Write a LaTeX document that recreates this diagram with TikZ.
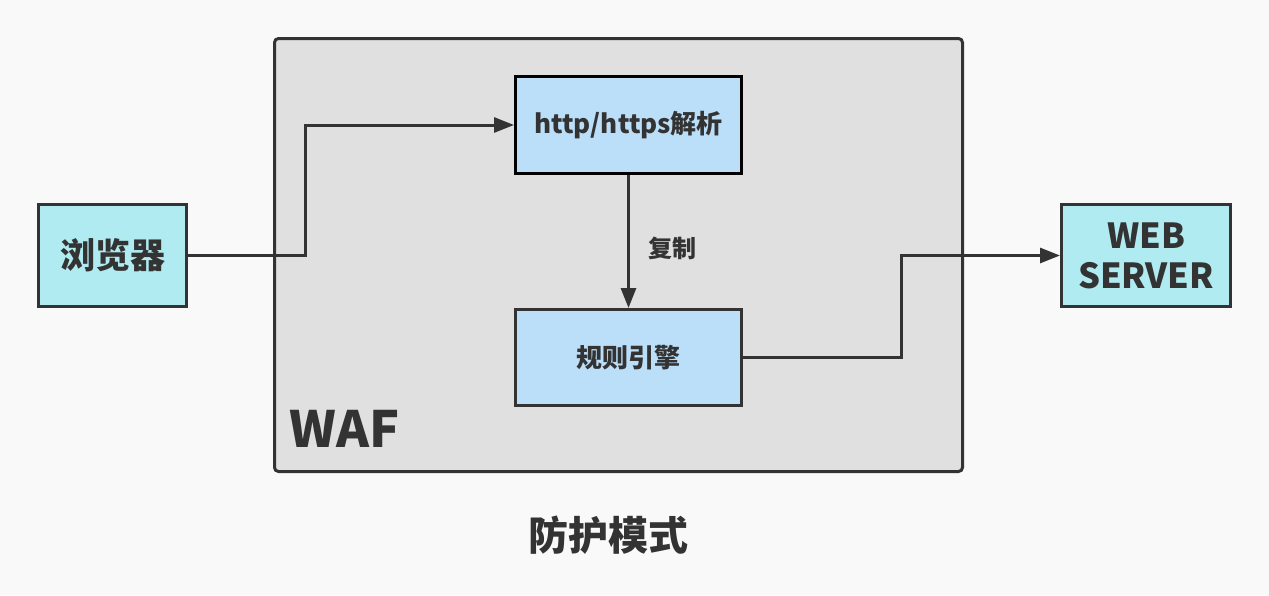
\documentclass[tikz,border=0pt]{standalone}
\usepackage{fontspec}
\newfontfamily\cjk{Noto Sans CJK SC}
\usetikzlibrary{arrows.meta}
\definecolor{bgcol}{HTML}{F9F9F9}
\definecolor{wafcol}{HTML}{E0E0E0}
\definecolor{darkline}{HTML}{333333}
\definecolor{cyancol}{HTML}{B0EBF2}
\definecolor{bluecol}{HTML}{BBDEF9}
\tikzset{
  endbox/.style={draw=darkline, line width=3pt, fill=cyancol, text=darkline,
    font=\cjk\bfseries\fontsize{35}{40}\selectfont, align=center},
  stepbox/.style={draw=darkline, line width=3pt, fill=bluecol, text=darkline,
    minimum width=226pt, font=\cjk\bfseries\fontsize{26}{30}\selectfont},
  conn/.style={draw=darkline, line width=3pt, -{Triangle[length=20pt,width=15pt]}},
  plain/.style={draw=darkline, line width=3pt}
}
\begin{document}
\begin{tikzpicture}[x=1pt,y=-1pt]
\useasboundingbox[fill=bgcol] (0,0) rectangle (1269,595);
% WAF frame
\node[draw=darkline, line width=3pt, fill=wafcol, rounded corners=4pt,
  minimum width=688pt, minimum height=433pt] (waf) at (618.5,255) {};
\node[anchor=base west, text=darkline, font=\cjk\bfseries\fontsize{50}{56}\selectfont] (waflbl) at (286,447) {WAF};
% boxes
\node[endbox, minimum width=148pt, minimum height=102pt] (browser) at (112.5,255.5) {浏览器};
\node[stepbox, draw=black, minimum height=97pt] (parse) at (628.5,125) {http/https解析};
\node[stepbox, minimum height=96pt] (rules) at (628.5,357.5) {规则引擎};
\node[endbox, minimum width=169pt, minimum height=102pt, font=\cjk\bfseries\fontsize{34.5}{40}\selectfont] (server) at (1146,255.5) {WEB\\SERVER};
% connectors
\coordinate (bendin) at (305,255.5);
\coordinate (bendout) at (901,357.5);
\draw[conn] (browser.east) -- (bendin) |- (parse.west);
\draw[conn] (parse.south) -- (rules.north);
\node[text=darkline, font=\cjk\bfseries\fontsize{24}{28}\selectfont] (copylbl) at (672,248) {复制};
\draw[conn] (rules.east) -- (bendout) |- (server.west);
% caption
\node[text=darkline, font=\cjk\bfseries\fontsize{40}{46}\selectfont] (caption) at (608,535) {防护模式};
\end{tikzpicture}
\end{document}
